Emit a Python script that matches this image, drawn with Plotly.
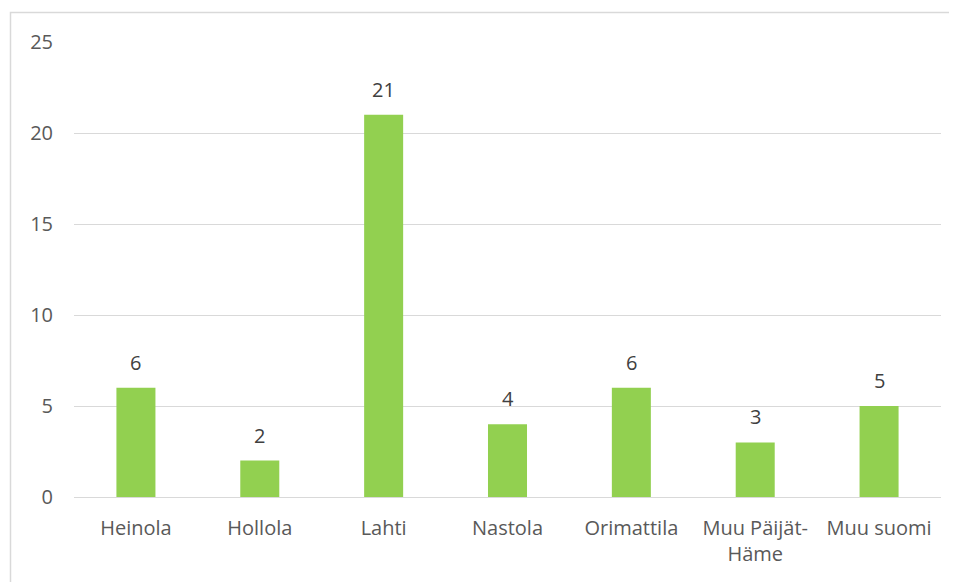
import plotly.graph_objects as go

categories = ["Heinola", "Hollola", "Lahti", "Nastola", "Orimattila", "Muu Päijät-<br>Häme", "Muu suomi"]
values = [6, 2, 21, 4, 6, 3, 5]
y_ticks = [0, 5, 10, 15, 20, 25]

FONT = "Open Sans"
GREY = "#595959"
FS = 20

fig = go.Figure()
fig.add_trace(go.Bar(x=categories, y=values, marker=dict(color="#92D050", line=dict(width=0)), hoverinfo="skip"))

for c, v in zip(categories, values):
    fig.add_annotation(x=c, y=v, text=str(v), showarrow=False, yanchor="bottom", yshift=10,
                       font=dict(family=FONT, size=FS, color="#404040"))

# page has an 8px body margin, so the figure is drawn offset by (8, 8)
W, H = 949, 574
L, R, T, B = 66, 16, 34, 85
pw, ph = W - L - R, H - T - B
fig.add_shape(type="rect", xref="paper", yref="paper",
              x0=(2.5 - L) / pw, x1=1.2, y0=-0.5, y1=(H - B - 4.5) / ph,
              line=dict(color="#d9d9d9", width=1.5), fillcolor="rgba(0,0,0,0)", layer="below")

fig.update_layout(
    width=W, height=H,
    margin=dict(l=L, r=R, t=T, b=B),
    paper_bgcolor="white", plot_bgcolor="white",
    bargap=0.685,
    showlegend=False,
    font=dict(family=FONT, size=FS, color=GREY),
    xaxis=dict(showgrid=False, showline=True, linecolor="#d9d9d9", linewidth=1, ticks="",
               ticklabelstandoff=13, tickfont=dict(family=FONT, size=FS, color=GREY)),
    yaxis=dict(range=[0, 25], tickvals=y_ticks, showgrid=True, gridcolor="#d9d9d9", gridwidth=1,
               zeroline=False, showline=False, ticks="", ticklabelstandoff=20,
               tickfont=dict(family=FONT, size=FS, color=GREY)),
)

fig.write_html("out.html")
